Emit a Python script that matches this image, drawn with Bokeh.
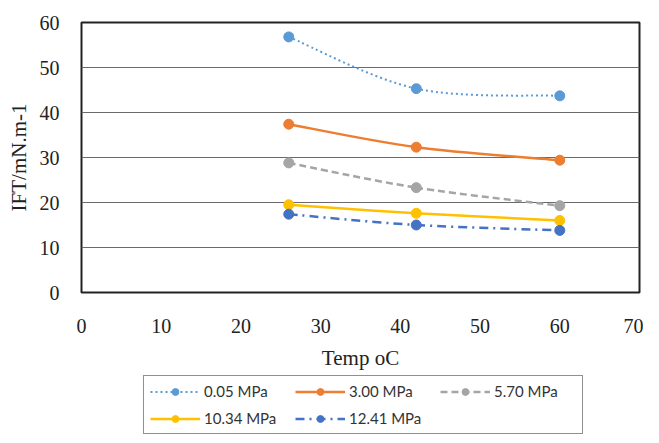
from bokeh.plotting import figure
from bokeh.models import Range1d, Legend, LegendItem, FixedTicker
from bokeh.layouts import column
from bokeh.embed import file_html
from bokeh.resources import INLINE

temps = [26, 42, 60]
series_names = ["0.05 MPa", "3.00 MPa", "5.70 MPa", "10.34 MPa", "12.41 MPa"]
ift_005 = [56.8, 45.3, 43.7]
ift_300 = [37.4, 32.3, 29.4]
ift_570 = [28.8, 23.3, 19.3]
ift_1034 = [19.5, 17.6, 16.0]
ift_1241 = [17.4, 15.0, 13.8]
x_ticks = [0, 10, 20, 30, 40, 50, 60, 70]
y_ticks = [0, 10, 20, 30, 40, 50, 60]

styles = [
    dict(color="#5B9BD5", dash="2 3", width=2),
    dict(color="#ED7D31", dash="solid", width=2.5),
    dict(color="#A5A5A5", dash="7 4", width=2.5),
    dict(color="#FFC000", dash="solid", width=2.5),
    dict(color="#4472C4", dash="9 5 2 5", width=2.5),
]
data = [ift_005, ift_300, ift_570, ift_1034, ift_1241]

p = figure(width=643, height=372, output_backend="svg", toolbar_location=None,
           x_range=Range1d(0, 70), y_range=Range1d(0, 60),
           min_border_left=81, min_border_top=22, min_border_right=4, min_border_bottom=77)

p.background_fill_color = "white"
p.border_fill_color = "white"
p.outline_line_color = "#222222"
p.outline_line_width = 2

for ax in (p.xaxis[0], p.yaxis[0]):
    ax.axis_line_color = None
    ax.major_tick_line_color = None
    ax.minor_tick_line_color = None
    ax.major_label_text_font = "Liberation Serif"
    ax.major_label_text_font_size = "20px"
    ax.major_label_text_color = "#222222"
    ax.axis_label_text_font = "Liberation Serif"
    ax.axis_label_text_font_size = "21px"
    ax.axis_label_text_font_style = "normal"
    ax.axis_label_text_color = "#222222"

p.xaxis.ticker = FixedTicker(ticks=x_ticks)
p.yaxis.ticker = FixedTicker(ticks=y_ticks)
p.xaxis.axis_label = "Temp oC"
p.yaxis.axis_label = "IFT/mN.m-1"
p.xaxis.major_label_standoff = 20
p.yaxis.major_label_standoff = 16
p.xaxis.axis_label_standoff = 10
p.yaxis.axis_label_standoff = 6

p.xgrid.grid_line_color = None
p.ygrid.grid_line_color = "#6a6a6a"
p.ygrid.grid_line_width = 1.2


def smooth_controls(xs, ys):
    n = len(xs)
    x0, y0, x1, y1, cx0, cy0, cx1, cy1 = [], [], [], [], [], [], [], []
    for i in range(n - 1):
        im1 = max(i - 1, 0)
        ip2 = min(i + 2, n - 1)
        x0.append(xs[i]); y0.append(ys[i])
        x1.append(xs[i + 1]); y1.append(ys[i + 1])
        cx0.append(xs[i] + (xs[i + 1] - xs[im1]) / 6.0)
        cy0.append(ys[i] + (ys[i + 1] - ys[im1]) / 6.0)
        cx1.append(xs[i + 1] - (xs[ip2] - xs[i]) / 6.0)
        cy1.append(ys[i + 1] - (ys[ip2] - ys[i]) / 6.0)
    return x0, y0, x1, y1, cx0, cy0, cx1, cy1


for name, ys, st in zip(series_names, data, styles):
    x0, y0, x1, y1, cx0, cy0, cx1, cy1 = smooth_controls(temps, ys)
    p.bezier(x0=x0, y0=y0, x1=x1, y1=y1, cx0=cx0, cy0=cy0, cx1=cx1, cy1=cy1,
             line_color=st["color"], line_width=st["width"], line_dash=st["dash"])
    p.scatter(temps, ys, size=10, marker="circle",
              fill_color=st["color"], line_color=st["color"])

# legend panel below the chart; its renderers lie outside its (empty) view range
lg = figure(width=643, height=63, output_backend="svg", toolbar_location=None,
            x_axis_type=None, y_axis_type=None, x_range=Range1d(-2, -1), y_range=Range1d(-2, -1),
            min_border_left=81, min_border_right=4, min_border_top=0, min_border_bottom=0)
lg.outline_line_color = None
lg.grid.grid_line_color = None
lg.background_fill_color = "white"
lg.border_fill_color = "white"

items = []
for name, ys, st in zip(series_names, data, styles):
    r_line = lg.line(temps, ys, line_color=st["color"],
                     line_width=st["width"], line_dash=st["dash"])
    r_pts = lg.scatter(temps, ys, size=10, marker="circle",
                       fill_color=st["color"], line_color=st["color"])
    items.append(LegendItem(label=name, renderers=[r_line, r_pts]))

legend = Legend(items=items, orientation="horizontal", ncols=3, location=(62, 1),
                label_text_font="Lato", label_text_font_size="15px", label_text_color="#333333",
                glyph_width=50, glyph_height=17, label_standoff=4, label_width=82,
                spacing=9, padding=6, margin=0,
                border_line_color="#222222", border_line_width=1.5,
                background_fill_color="white")
lg.add_layout(legend, "center")

layout = column(p, lg, spacing=0)
open("out.html", "w").write(file_html(layout, INLINE))
